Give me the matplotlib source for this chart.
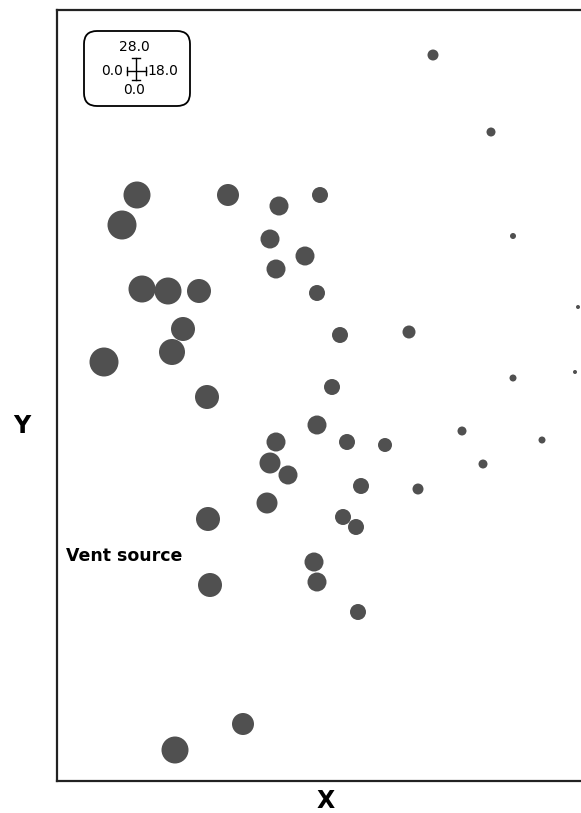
import matplotlib.pyplot as plt
from matplotlib.patches import FancyBboxPatch
from matplotlib.lines import Line2D
from matplotlib.transforms import IdentityTransform

W, H = 581, 813

# sample positions (horizontal / vertical distance) and marker diameters
x = [376, 434, 80, 171, 263, 222, 65, 213, 248, 456, 219, 85, 111, 142, 260,
     521, 126, 283, 352, 115, 47, 456, 518, 275, 150, 260, 405, 219, 290, 328,
     485, 213, 231, 426, 304, 361, 210, 151, 286, 299, 257, 260, 153, 301, 186, 118]
y = [726, 649, 586, 586, 586, 575, 556, 542, 525, 545, 512, 492, 490, 490, 488,
     474, 452, 446, 449, 429, 419, 403, 409, 394, 384, 356, 350, 339, 339, 336,
     341, 318, 306, 317, 295, 292, 278, 262, 264, 254, 219, 199, 196, 169, 57, 31]
d = [11, 9, 27, 22, 16, 19, 29, 19, 19, 6, 19, 27, 27, 24, 16,
     4, 24, 16, 13, 26, 29, 7, 4, 16, 24, 19, 9, 19, 16, 14,
     7, 21, 19, 9, 16, 11, 21, 24, 16, 16, 19, 19, 24, 16, 22, 27]

fig = plt.figure(figsize=(W / 100, H / 100), dpi=100)
ax = fig.add_axes([57 / W, 32 / H, 600 / W, 771 / H])
ax.set_xlim(0, 600)
ax.set_ylim(0, 771)
ax.scatter(x, y, s=[(0.72 * v) ** 2 for v in d], color='#505050', linewidths=0, clip_on=False)
ax.set_xticks([])
ax.set_yticks([])
ax.spines['right'].set_visible(False)
for s in ['left', 'top', 'bottom']:
    ax.spines[s].set_linewidth(1.6)
    ax.spines[s].set_color('#222222')

def fp(px, py):
    return px / W, 1 - py / H

bold = dict(fontweight='heavy', family='DejaVu Sans', color='black')
fig.text(*fp(22, 426), 'Y', fontsize=17, ha='center', va='center', **bold)
fig.text(*fp(326, 801), 'X', fontsize=17, ha='center', va='center', **bold)
fig.text(*fp(66, 556), 'Vent source', fontsize=12.5, ha='left', va='center', **bold)

# legend box with error-bar key (pixel coordinates, origin bottom-left)
box = FancyBboxPatch((84, H - 106), 106, 75,
                     boxstyle='round,pad=0,rounding_size=13',
                     transform=IdentityTransform(), fc='white', ec='black', lw=1.3)
fig.add_artist(box)

cx, cy = 136, 71
for seg in [((cx, cx), (58, 80)), ((127, 146), (cy, cy)),
            ((cx - 4, cx + 4), (58, 58)), ((cx - 4, cx + 4), (80, 80)),
            ((127, 127), (cy - 4, cy + 4)), ((146, 146), (cy - 4, cy + 4))]:
    xs = [p / W for p in seg[0]]
    ys = [1 - p / H for p in seg[1]]
    fig.add_artist(Line2D(xs, ys, color='black', lw=1.0, transform=fig.transFigure))

lg = dict(fontsize=10, family='DejaVu Sans', color='black', va='center')
fig.text(*fp(134, 47), '28.0', ha='center', **lg)
fig.text(*fp(123, 71), '0.0', ha='right', **lg)
fig.text(*fp(147, 71), '18.0', ha='left', **lg)
fig.text(*fp(134, 90), '0.0', ha='center', **lg)

fig.savefig('out.png', dpi=100, facecolor='white')
